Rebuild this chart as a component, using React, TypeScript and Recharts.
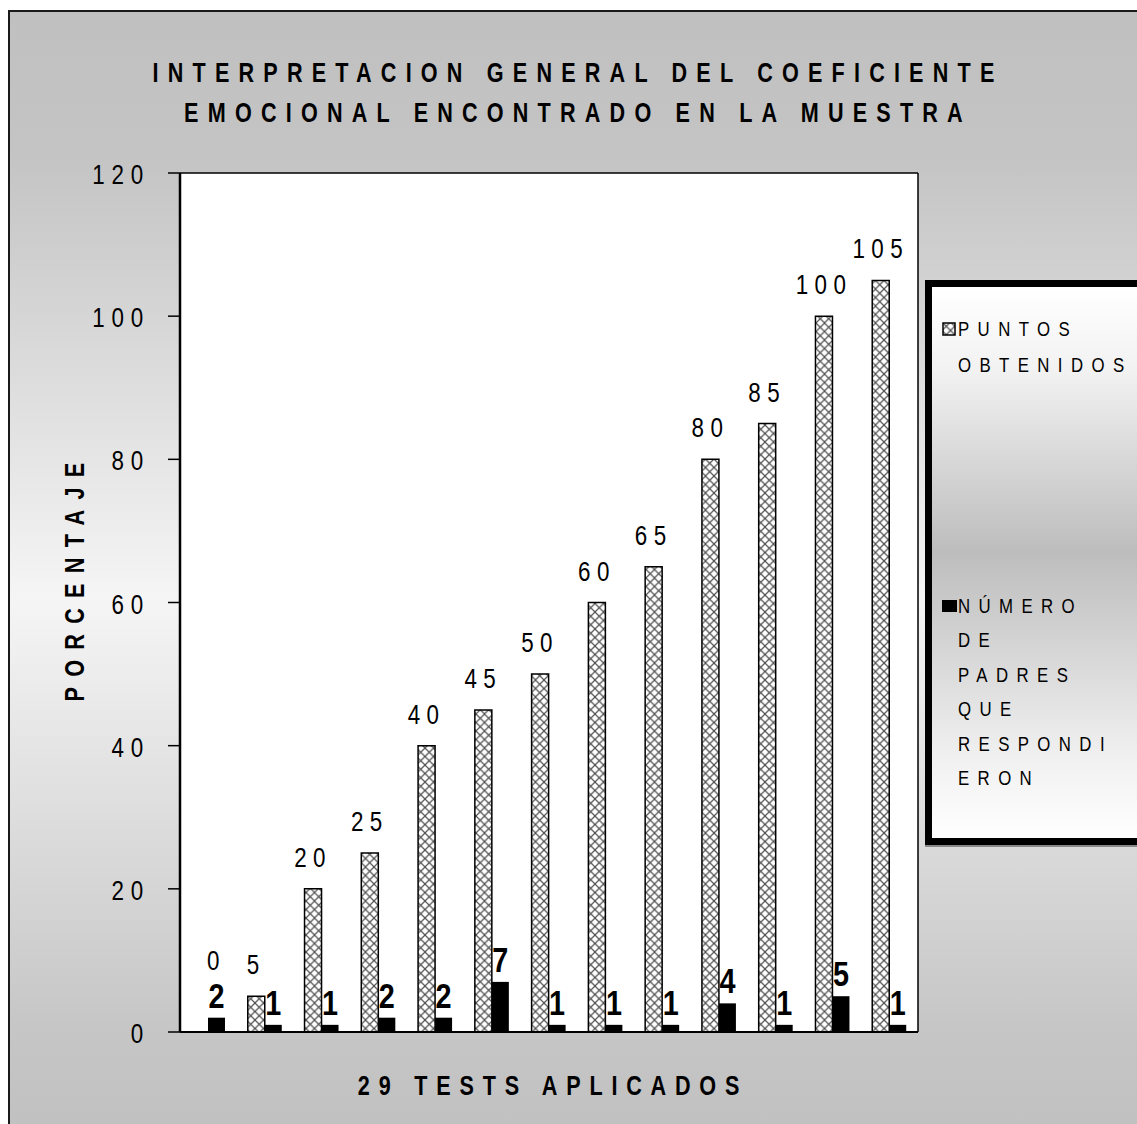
import React from 'react';
import { BarChart, Bar, XAxis, YAxis, CartesianGrid, LabelList } from 'recharts';

const categories = ['1', '2', '3', '4', '5', '6', '7', '8', '9', '10', '11', '12', '13'];
const puntos = [0, 5, 20, 25, 40, 45, 50, 60, 65, 80, 85, 100, 105];
const padres = [2, 1, 1, 2, 2, 7, 1, 1, 1, 4, 1, 5, 1];
const yTicks = [0, 20, 40, 60, 80, 100, 120];
const titleLines = ['INTERPRETACION GENERAL DEL COEFICIENTE', 'EMOCIONAL ENCONTRADO EN LA MUESTRA'];
const yTitle = 'PORCENTAJE';
const xTitle = '29 TESTS APLICADOS';
const seriesNames = ['PUNTOS OBTENIDOS', 'NÚMERO DE PADRES QUE RESPONDIERON'];
const legendLines = [
  ['PUNTOS', 'OBTENIDOS'],
  ['NÚMERO', 'DE', 'PADRES', 'QUE', 'RESPONDI', 'ERON'],
];

const data = categories.map((c, i) => ({ cat: c, puntos: puntos[i], padres: padres[i] }));

const FONT = "'Liberation Sans', Arial, sans-serif";
const SX = 0.8; // narrow (condensed) glyph scale

type NTProps = {
  x: number;
  y: number;
  anchor?: 'start' | 'middle' | 'end';
  size: number;
  bold?: boolean;
  ls?: number;
  rotate?: boolean;
  children: React.ReactNode;
};

const NText = ({ x, y, anchor = 'middle', size, bold, ls = 0, rotate, children }: NTProps) => (
  <g transform={`translate(${x},${y})${rotate ? ' rotate(-90)' : ''} scale(${SX},1)`}>
    <text x={0} y={0} textAnchor={anchor} fontFamily={FONT} fontWeight={bold ? 'bold' : 'normal'} fontSize={size} fill="#000" style={{ letterSpacing: ls }}>
      {children}
    </text>
  </g>
);

const YTick = (props: any) => {
  const { x, y, payload } = props;
  return (
    <NText x={x - 4} y={y + 11} anchor="end" size={28} ls={8.5}>
      {payload.value}
    </NText>
  );
};

const PuntosLabel = (props: any) => {
  const { x, y, width, value } = props;
  if (value === 0) return null;
  return (
    <NText x={x + width / 2} y={y - 22} size={28} ls={8}>
      {value}
    </NText>
  );
};

const PadresLabel = (props: any) => {
  const { x, y, width, value, index } = props;
  const cx = x + width / 2;
  const p = puntos[index];
  return (
    <g>
      <NText x={cx} y={y - 10} size={36} bold>
        {value}
      </NText>
      {p === 0 ? (
        <NText x={cx} y={y - 48} size={28} ls={8}>
          {p}
        </NText>
      ) : null}
    </g>
  );
};

export default function App() {
  return (
    <div style={{ position: 'absolute', left: 0, top: 0, width: 1137, height: 1124, overflow: 'hidden' }}>
      <svg width={1137} height={1124} style={{ position: 'absolute', left: 0, top: 0 }}>
        <defs>
          <linearGradient id="bgGrad" x1="0" y1="0" x2="0" y2="1">
            <stop offset="0%" stopColor="#c0c0c0" />
            <stop offset="13%" stopColor="#c4c4c4" />
            <stop offset="52%" stopColor="#f5f5f5" />
            <stop offset="90%" stopColor="#c6c6c6" />
            <stop offset="100%" stopColor="#c0c0c0" />
          </linearGradient>
          <pattern id="hatch" patternUnits="userSpaceOnUse" width="8.5" height="8.5">
            <rect width="8.5" height="8.5" fill="#fff" />
            <path d="M0,0 L8.5,8.5 M8.5,0 L0,8.5" stroke="#505050" strokeWidth="1.2" />
          </pattern>
        </defs>
        <rect x={9} y={11} width={1140} height={1130} fill="url(#bgGrad)" stroke="#1a1a1a" strokeWidth={2} />
        {titleLines.map((t, i) => (
          <NText key={i} x={578} y={82 + i * 40} size={27} bold ls={11.5}>
            {t}
          </NText>
        ))}
        <NText x={84} y={577} rotate size={27} bold ls={12.9}>
          {yTitle}
        </NText>
        <NText x={553} y={1095} size={27} bold ls={11}>
          {xTitle}
        </NText>
      </svg>

      <div style={{ position: 'absolute', left: 0, top: 0 }}>
        <BarChart
          width={1137}
          height={1124}
          data={data}
          margin={{ top: 173, right: 218, bottom: 90, left: 120 }}
          barGap={0}
          barCategoryGap="20%"
        >
          <CartesianGrid vertical={false} stroke="#000" strokeWidth={1.5} fill="#fff" fillOpacity={1} />
          <XAxis dataKey="cat" tick={false} tickLine={false} height={2} axisLine={{ stroke: '#000', strokeWidth: 2 }} />
          <YAxis
            yAxisId="left"
            domain={[0, 120]}
            ticks={yTicks}
            width={60}
            tickSize={12}
            tickMargin={14}
            interval={0}
            tick={<YTick />}
            tickLine={{ stroke: '#000', strokeWidth: 1.5 }}
            axisLine={{ stroke: '#000', strokeWidth: 2.5 }}
          />
          <YAxis yAxisId="right" orientation="right" domain={[0, 120]} width={1} tick={false} tickLine={false} axisLine={{ stroke: '#000', strokeWidth: 1.5 }} />
          <Bar yAxisId="left" dataKey="puntos" name={seriesNames[0]} fill="url(#hatch)" stroke="#000" strokeWidth={1.5} barSize={17} isAnimationActive={false}>
            <LabelList dataKey="puntos" content={<PuntosLabel />} />
          </Bar>
          <Bar yAxisId="left" dataKey="padres" name={seriesNames[1]} fill="#000" barSize={17} isAnimationActive={false}>
            <LabelList dataKey="padres" content={<PadresLabel />} />
          </Bar>
        </BarChart>
      </div>

      <div
        style={{
          position: 'absolute',
          left: 925,
          top: 280,
          width: 240,
          height: 565,
          boxSizing: 'border-box',
          border: '7px solid #000',
          background: 'linear-gradient(to bottom, #ffffff 0%, #f2f2f2 15%, #bdbdbd 48%, #f0f0f0 85%, #ffffff 100%)',
          boxShadow: '0 2px 0 #888',
        }}
      >
        <svg width={14} height={14} style={{ position: 'absolute', left: 10, top: 35 }}>
          <rect x={1} y={1} width={12} height={12} fill="url(#hatch)" stroke="#000" strokeWidth={1.5} />
        </svg>
        {legendLines[0].map((l, i) => (
          <div key={'a' + i} style={{ position: 'absolute', left: 26, top: 42 - 18 + i * 36, height: 36, lineHeight: '36px', fontFamily: FONT, fontSize: 21, letterSpacing: 10.5, color: '#000', whiteSpace: 'nowrap', transform: `scaleX(${SX})`, transformOrigin: 'left center' }}>
            {l}
          </div>
        ))}
        <div style={{ position: 'absolute', left: 10, top: 313, width: 15, height: 12, background: '#000' }} />
        {legendLines[1].map((l, i) => (
          <div key={'b' + i} style={{ position: 'absolute', left: 26, top: 319 - 17 + i * 34.4, height: 34, lineHeight: '34px', fontFamily: FONT, fontSize: 21, letterSpacing: 10.5, color: '#000', whiteSpace: 'nowrap', transform: `scaleX(${SX})`, transformOrigin: 'left center' }}>
            {l}
          </div>
        ))}
      </div>
    </div>
  );
}
